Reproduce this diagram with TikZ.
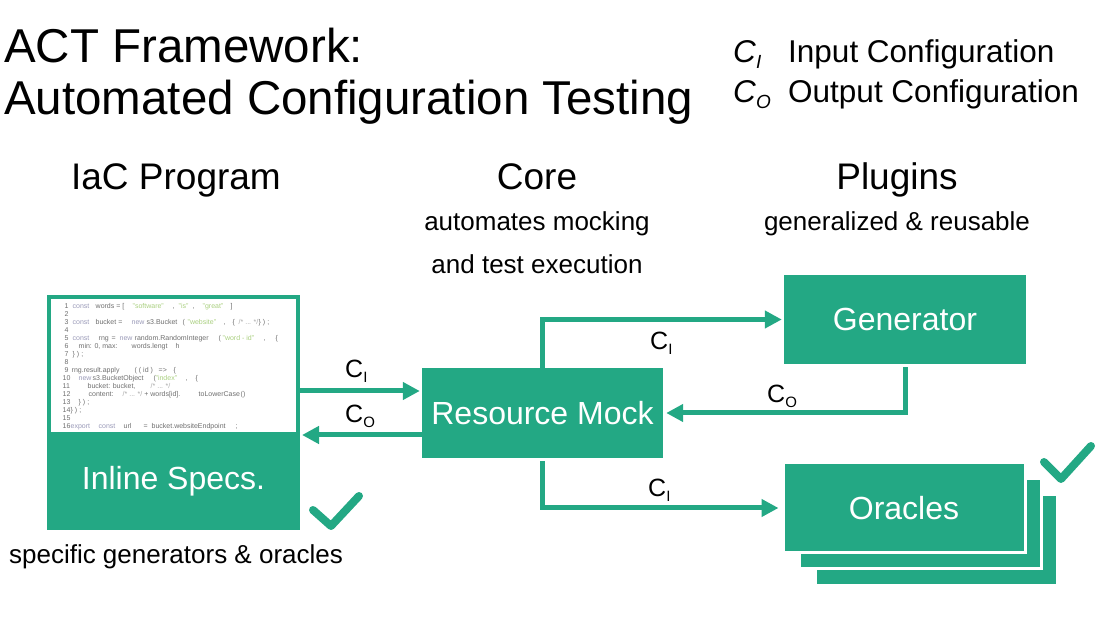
\documentclass[tikz,border=0pt]{standalone}
\usepackage{fontspec}
\setmainfont{Liberation Sans}
\usetikzlibrary{arrows.meta}
\definecolor{actgreen}{HTML}{23A884}
\definecolor{kwc}{HTML}{9A9AB8}
\definecolor{strc}{HTML}{A9CF7F}
\definecolor{txtc}{HTML}{6E6E6E}
\definecolor{cmc}{HTML}{A8A8A8}
\newcommand\cc[2]{\rlap{\hspace*{#1pt}#2}}
\newcommand\kw[1]{{\color{kwc}#1}}
\newcommand\st[1]{{\color{strc}#1}}
\newcommand\cm[1]{{\color{cmc}#1}}
\newcommand\fs[1]{\fontsize{#1}{#1}\selectfont}
\tikzset{
  greenbox/.style={fill=actgreen, draw=none, inner sep=0pt, text=white, font=\fs{32}},
  arr/.style={draw=actgreen, line width=5pt, -{Triangle[length=17pt,width=17pt]}},
  check/.style={draw=actgreen, line width=8pt, line cap=round, line join=round},
  codeline/.style={anchor=base west, inner sep=0pt, font=\fs{7}, text=txtc},
  lbl/.style={anchor=base west, inner sep=0pt, font=\fs{25}},
  plain/.style={inner sep=0pt}
}
\begin{document}
\begin{tikzpicture}[x=1pt,y=-1pt]
\useasboundingbox (0,0) rectangle (1096,617);

% titles
\node[plain, anchor=base west, font=\fs{47.5}] (t1) at (4,63) {ACT Framework:};
\node[plain, anchor=base west, font=\fs{47.5}] (t2) at (4,115) {Automated Configuration Testing};
\node[plain, anchor=base west, font=\fs{31.5}] (lg1) at (733,63) {\textit{C}\raisebox{-6pt}{\fs{19}\textit{I}}};
\node[plain, anchor=base west, font=\fs{31.5}] (lg1t) at (788,63) {Input Configuration};
\node[plain, anchor=base west, font=\fs{31.5}] (lg2) at (733,103) {\textit{C}\raisebox{-6pt}{\fs{19}\textit{O}}};
\node[plain, anchor=base west, font=\fs{31.5}] (lg2t) at (788,103) {Output Configuration};

\node[plain, anchor=base, font=\fs{37}] (h1) at (176,190) {IaC Program};
\node[plain, anchor=base, font=\fs{37}] (h2) at (537,190) {Core};
\node[plain, anchor=base, font=\fs{37}] (h3) at (897,190) {Plugins};
\node[plain, anchor=base, font=\fs{26}] (s2a) at (537,231) {automates mocking};
\node[plain, anchor=base, font=\fs{26}] (s2b) at (537,274) {and test execution};
\node[plain, anchor=base, font=\fs{26}] (s3) at (897,231) {generalized \& reusable};
\node[plain, anchor=base, font=\fs{26}] (s1) at (176,564) {specific generators \& oracles};

% code box
\node[draw=actgreen, line width=4pt, minimum width=249pt, minimum height=231pt, inner sep=0pt] (code) at (173.5,412.5) {};
\node[greenbox, minimum width=253pt, minimum height=98pt] (spec) at (173.5,481) {Inline Specs.};

\node[codeline] (l1) at (60,309) {\cc{4}{1}\cc{12}{\kw{const}}\cc{35}{words = [}\cc{72}{\st{"software"}}\cc{112}{,}\cc{118}{\st{"is"}}\cc{132}{,}\cc{142}{\st{"great"}}\cc{170}{]}};
\node[codeline] (l2) at (60,317) {\cc{4}{2}};
\node[codeline] (l3) at (60,325) {\cc{4}{3}\cc{12}{\kw{const}}\cc{35}{bucket =}\cc{71}{\kw{new}}\cc{86}{s3.Bucket}\cc{122}{(}\cc{127}{\st{"website"}}\cc{163}{,}\cc{172}{\{}\cc{178}{\cm{/* ... */}}\cc{198}{\} ) ;}};
\node[codeline] (l4) at (60,333) {\cc{4}{4}};
\node[codeline] (l5) at (60,341) {\cc{4}{5}\cc{12}{\kw{const}}\cc{38}{rng}\cc{51}{=}\cc{59}{\kw{new}}\cc{74}{random.RandomInteger}\cc{158}{(}\cc{162}{\st{"word - id"}}\cc{203}{,}\cc{215}{\{}};
\node[codeline] (l6) at (60,349) {\cc{4}{6}\cc{18}{min: 0, max:}\cc{71}{words.lengt}\cc{115}{h}};
\node[codeline] (l7) at (60,357) {\cc{4}{7}\cc{12}{\} ) ;}};
\node[codeline] (l8) at (60,365) {\cc{4}{8}};
\node[codeline] (l9) at (60,373) {\cc{4}{9}\cc{11}{rng.result.apply}\cc{74}{( ( id )}\cc{98}{=>}\cc{113}{\{}};
\node[codeline] (l10) at (60,381) {\cc{2}{10}\cc{18}{\kw{new}}\cc{32}{s3.BucketObject}\cc{93}{(}\cc{95}{\st{"index"}}\cc{125}{,}\cc{135}{\{}};
\node[codeline] (l11) at (60,389) {\cc{2}{11}\cc{27}{bucket: bucket,}\cc{90}{\cm{/* ... */}}};
\node[codeline] (l12) at (60,397) {\cc{2}{12}\cc{28}{content:}\cc{62}{\cm{/* ... */} + words[id].}\cc{138}{toLowerCase}\cc{180}{()}};
\node[codeline] (l13) at (60,405) {\cc{2}{13}\cc{18}{\} ) ;}};
\node[codeline] (l14) at (60,413) {\cc{2}{14}\cc{10}{\} ) ;}};
\node[codeline] (l15) at (60,421) {\cc{2}{15}};
\node[codeline] (l16) at (60,429) {\cc{2}{16}\cc{10}{\kw{export}}\cc{38}{\kw{const}}\cc{63}{url}\cc{83}{=}\cc{91}{bucket.websiteEndpoint}\cc{175}{;}};

% core and plugins
\node[greenbox, minimum width=241pt, minimum height=90pt] (rm) at (542.5,413) {Resource Mock};
\node[greenbox, minimum width=242pt, minimum height=89pt] (gen) at (905,319.5) {Generator};
\node[greenbox, draw=white, line width=3pt, minimum width=242pt, minimum height=90pt] (or3) at (936,540) {};
\node[greenbox, draw=white, line width=3pt, minimum width=242pt, minimum height=90pt] (or2) at (920,524) {};
\node[greenbox, draw=white, line width=3pt, minimum width=242pt, minimum height=90pt] (or) at (904,508) {Oracles};

% connectors
\draw[arr, shorten >=2pt] (code.east |- 0,391) -- (rm.west |- 0,391);
\draw[arr] (rm.west |- 0,435) -- ([xshift=2pt]code.east |- 0,435);
\draw[arr, shorten >=2pt] (rm.north) |- (gen.west);
\draw[arr, shorten <=3pt, shorten >=3pt] (gen.south) |- (rm.east);
\draw[arr, shorten <=3pt, shorten >=3pt] (rm.south) |- (or.west);

% labels
\node[lbl] (c1) at (345,378) {C\raisebox{-5pt}{\fs{15}I}};
\node[lbl] (c2) at (345,423) {C\raisebox{-5pt}{\fs{15}O}};
\node[lbl] (c3) at (650,350) {C\raisebox{-5pt}{\fs{15}I}};
\node[lbl] (c4) at (767,403) {C\raisebox{-5pt}{\fs{15}O}};
\node[lbl] (c5) at (648,497) {C\raisebox{-5pt}{\fs{15}I}};

% checks
\draw[check] (313,510) -- (331,526) -- (359,496);
\draw[check] (1044,462) -- (1061,479) -- (1091,446);
\end{tikzpicture}
\end{document}
